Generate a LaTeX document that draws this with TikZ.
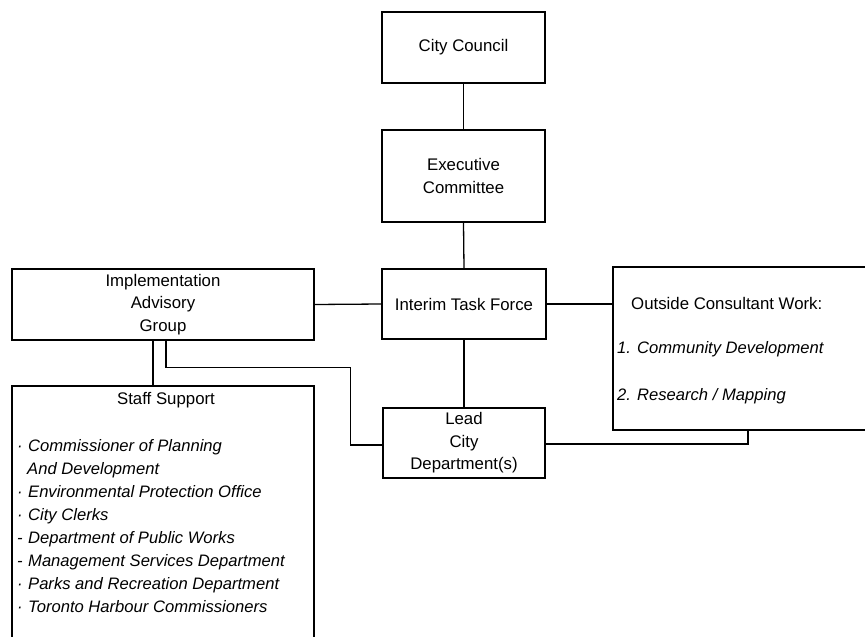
\documentclass[tikz,border=0pt]{standalone}
\usepackage{fontspec}
\setmainfont{Liberation Sans}
\usetikzlibrary{calc}
\tikzset{
  box/.style={draw, line width=1.5pt, rectangle, inner sep=0pt, align=center,
    font=\fontsize{16.8}{22.5}\selectfont},
  conn/.style={line width=1.3pt},
  txt/.style={inner sep=0pt, font=\fontsize{16.8}{22.5}\selectfont},
  itxt/.style={inner sep=0pt, anchor=base west, font=\fontsize{16.6}{22.5}\selectfont\itshape},
}
\newcommand{\bul}[1]{\makebox[11pt][l]{#1}}
\begin{document}
\begin{tikzpicture}[x=1pt,y=-1pt]
\clip (0,0) rectangle (865,637);
% boxes
\node[box, minimum width=163pt, minimum height=71pt] (cc) at (463.5,47.5) {City Council};
\node[box, minimum width=163pt, minimum height=92pt] (ec) at (463.5,176) {Executive\\Committee};
\node[box, minimum width=164pt, minimum height=70pt] (itf) at (464,304) {Interim Task Force};
\node[box, minimum width=162pt, minimum height=70pt] (lead) at (464,443) {Lead\\City\\Department(s)};
\node[box, minimum width=302pt, minimum height=71pt] (iag) at (163,304.5) {Implementation\\Advisory\\Group};
\node[box, minimum width=302pt, minimum height=290pt] (staff) at (163,531) {};
\node[box, minimum width=280pt, minimum height=163pt] (out) at (753,348.5) {};
% texts
\node[txt] (sst) at (166,400) {Staff Support};
\node[txt, anchor=west] (ot) at (631,303) {Outside Consultant Work:};
\node[itxt] (o1) at (617,353.5) {1. Community Development};
\node[itxt] (o2) at (617,400.5) {2. Research / Mapping};
\node[itxt] (s1) at (17,451.5) {\bul{·}Commissioner of Planning};
\node[itxt] (s2) at (27,474.5) {And Development};
\node[itxt] (s3) at (17,497.5) {\bul{·}Environmental Protection Office};
\node[itxt] (s4) at (17,520.5) {\bul{·}City Clerks};
\node[itxt] (s5) at (17,543.5) {\bul{-}Department of Public Works};
\node[itxt] (s6) at (17,566.5) {\bul{-}Management Services Department};
\node[itxt] (s7) at (17,589.5) {\bul{·}Parks and Recreation Department};
\node[itxt] (s8) at (17,612.5) {\bul{·}Toronto Harbour Commissioners};
% connectors
\draw[conn] (cc.south) -- (ec.north);
\draw[conn] (ec.south) -- (itf.north);
\draw[conn] (iag.east) -- (itf.west);
\draw[conn] (itf.east) -- (out.west |- itf.east);
\draw[conn] (itf.south) -- (lead.north);
\draw[conn] ([xshift=-10pt]iag.south) -- ([xshift=-10pt]iag.south |- staff.north);
\draw[conn] ([xshift=3pt]iag.south) -- ++(0,27) -| ([xshift=-32pt,yshift=-2pt]lead.west) -- ([yshift=-2pt]lead.west);
\draw[conn] ([yshift=-1pt]lead.east) -| ([xshift=-5pt]out.south);
\end{tikzpicture}
\end{document}
